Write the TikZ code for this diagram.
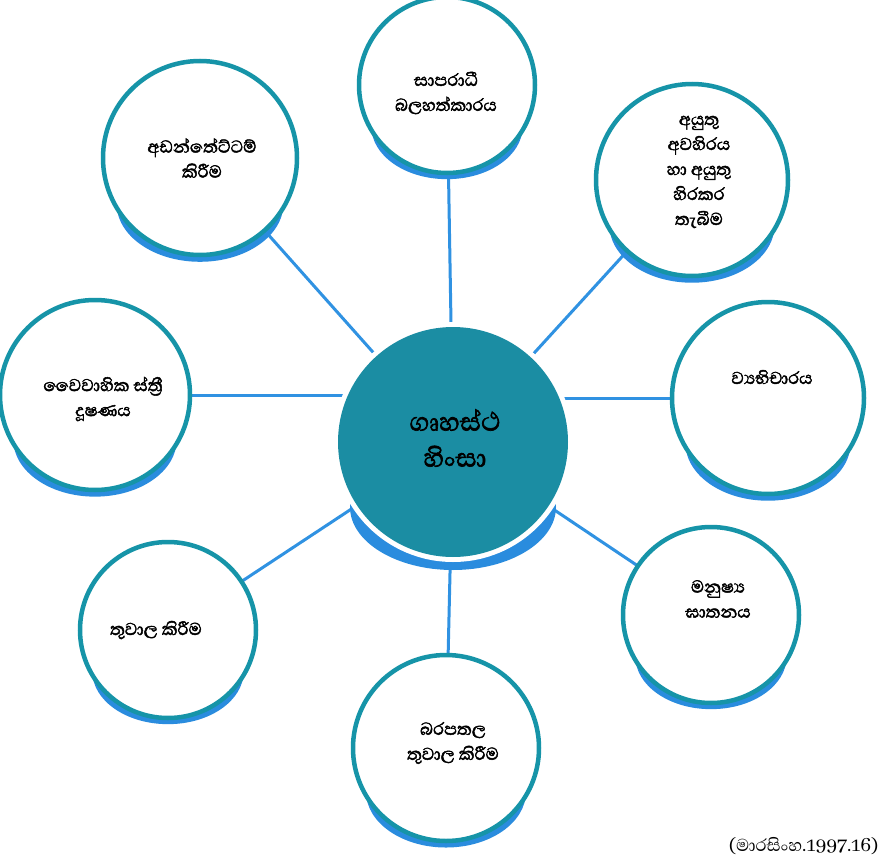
\documentclass[tikz,border=0pt]{standalone}
\usepackage{fontspec}
\newfontfamily\sinhfont[Script=Sinhala]{Abhaya Libre}
\newfontfamily\sinhbf[Script=Sinhala,FakeBold=2]{Abhaya Libre}
\definecolor{hubfill}{RGB}{27,141,163}
\definecolor{ring}{RGB}{22,148,168}
\definecolor{shadowblue}{RGB}{42,140,222}
\definecolor{spokec}{RGB}{48,146,226}
\newcommand\ringshadow[3]{\fill[shadowblue] (#1,{#2+0.47*#3}) ellipse [x radius={0.86*#3}, y radius={0.6*#3}];}
\begin{document}
\begin{tikzpicture}[x=1pt,y=-1pt,
  outer/.style={circle, draw=ring, line width=4.5pt, fill=white, inner sep=0pt, minimum size=#1},
  hub/.style={circle, fill=hubfill, inner sep=0pt, minimum size=230pt},
  spokeline/.style={draw=spokec, line width=3pt},
  lbl/.style={align=center, font=\sinhbf\fontsize{22}{25}\selectfont},
  hublbl/.style={align=center, font=\sinhbf\fontsize{33}{36}\selectfont},
  cite/.style={font=\sinhfont\fontsize{22}{24}\selectfont}]
\useasboundingbox (0,0) rectangle (887,862);
\fill[white] (0,0) rectangle (887,862);

% centres
\coordinate (Cc) at (453,442);
\coordinate (Tc) at (447,85);
\coordinate (TLc) at (200,158);
\coordinate (TRc) at (692,180);
\coordinate (Lc) at (95,395);
\coordinate (Rc) at (768,398);
\coordinate (BRc) at (711,615);
\coordinate (BLc) at (168,630);
\coordinate (Bc) at (446,748);

% spokes
\draw[spokeline] (Cc) -- (Tc);
\draw[spokeline] (Cc) -- (TLc);
\draw[spokeline] (Cc) -- (TRc);
\draw[spokeline] (Lc) -- (Lc -| Cc);
\draw[spokeline] (Rc) -- (Rc -| Cc);
\draw[spokeline] (Cc) -- (BRc);
\draw[spokeline] (Cc) -- (BLc);
\draw[spokeline] (Cc) -- (Bc);

% shadows
\ringshadow{447}{85}{88}
\ringshadow{200}{158}{97}
\ringshadow{692}{180}{96}
\ringshadow{95}{395}{95}
\ringshadow{768}{398}{96}
\ringshadow{711}{615}{88}
\ringshadow{168}{630}{88}
\ringshadow{446}{748}{93}
\fill[shadowblue] (453,507) ellipse [x radius=103, y radius=63];
\fill[white] (Cc) circle [radius=120];

% circles
\node[hub] (C) at (Cc) {};
\node[outer=176pt] (T) at (Tc) {};
\node[outer=194pt] (TL) at (TLc) {};
\node[outer=192pt] (TR) at (TRc) {};
\node[outer=190pt] (L) at (Lc) {};
\node[outer=192pt] (R) at (Rc) {};
\node[outer=176pt] (BR) at (BRc) {};
\node[outer=176pt] (BL) at (BLc) {};
\node[outer=186pt] (B) at (Bc) {};

% texts
\node[hublbl] (Ct) at (455,438) {ගෘහස්ථ\\හිංසා};
\node[lbl] (Tt) at (446,93) {සාපරාධී\\බලහත්කාරය};
\node[lbl] (TLt) at (202,158) {අඩන්තේට්ටම්\\කිරීම};
\node[lbl] (TRt) at (699,172) {අයුතු\\අවහිරය\\හා අයුතු\\හිරකර\\තැබීම};
\node[lbl] (Lt) at (103,399) {වෛවාහික ස්ත්^^^^200dරී\\දූෂණය};
\node[lbl] (Rt) at (772,377) {ව්^^^^200dයභිචාරය};
\node[lbl] (BRt) at (718,599) {මනුෂ්^^^^200dය\\ඝාතනය};
\node[lbl] (BLt) at (156,630) {තුවාල කිරීම};
\node[lbl] (Bt) at (453,743) {බරපතල\\තුවාල කිරීම};
\node[cite, anchor=east] (cit) at (882,846) {(මාරසිංහ.1997.16)};
\end{tikzpicture}
\end{document}
